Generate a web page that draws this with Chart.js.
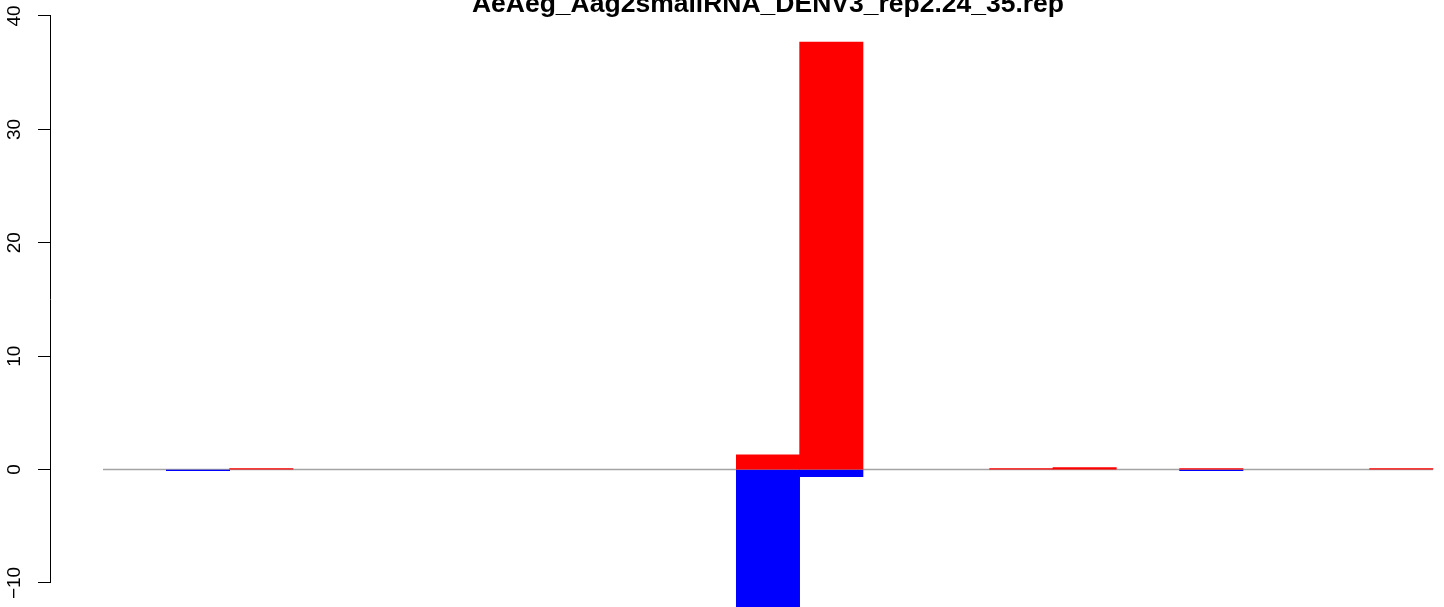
<!DOCTYPE html>
<html>
<head>
<meta charset="utf-8">
<script src="https://cdn.jsdelivr.net/npm/chart.js@4/dist/chart.umd.min.js"></script>
<style>
  html, body { margin: 0; padding: 0; background: #fff; overflow: hidden; }
  canvas { display: block; }
</style>
</head>
<body>
<canvas id="chart" width="1444" height="607"></canvas>
<script>
// positions along the x axis (21 slots)
const positions = [0, 1, 2, 3, 4, 5, 6, 7, 8, 9, 10, 11, 12, 13, 14, 15, 16, 17, 18, 19, 20];
const plusValues  = [0, 0, 0.09, 0, 0, 0, 0, 0, 0, 0, 1.29, 37.7, 0, 0, 0.09, 0.18, 0, 0.09, 0, 0, 0.09];
const minusValues = [0, -0.09, 0, 0, 0, 0, 0, 0, 0, 0, -12.5, -0.63, 0, 0, 0, 0, 0, -0.09, 0, 0, 0];
const yTickValues = [-10, 0, 10, 20, 30, 40];
const chartTitle = 'AeAeg_Aag2smallRNA_DENV3_rep2.24_35.rep';

// empty slots are left out so nothing is painted over the zero line
const toPoints = arr => positions.map((p, i) => ({ x: p, y: arr[i] === 0 ? null : arr[i] }));

// rotated tick labels, axis line and the cut-off title (R style)
const rAxisPlugin = {
    id: 'rAxis',
    afterDraw(chart) {
        const ctx = chart.ctx;
        const y = chart.scales.y;
        const x = chart.scales.x;
        ctx.save();
        ctx.strokeStyle = '#000';
        ctx.lineWidth = 1;
        ctx.beginPath();
        ctx.moveTo(y.right - 0.5, y.getPixelForValue(yTickValues[0]));
        ctx.lineTo(y.right - 0.5, y.getPixelForValue(yTickValues[yTickValues.length - 1]));
        ctx.stroke();

        ctx.fillStyle = '#000';
        ctx.font = '19px "Liberation Sans", Arial, sans-serif';
        ctx.textAlign = 'center';
        ctx.textBaseline = 'alphabetic';
        yTickValues.forEach(v => {
            ctx.save();
            ctx.translate(20, y.getPixelForValue(v));
            ctx.rotate(-Math.PI / 2);
            ctx.fillText(v < 0 ? '\u2212' + Math.abs(v) : String(v), 0, 0);
            ctx.restore();
        });

        const cx = (x.getPixelForValue(-0.5) + x.getPixelForValue(20.5)) / 2;
        ctx.font = 'bold 26.5px "Liberation Sans", Arial, sans-serif';
        ctx.fillText(chartTitle, cx, 12);
        ctx.restore();
    }
};

new Chart(document.getElementById('chart'), {
    type: 'bar',
    data: {
        datasets: [
            {
                label: 'plus',
                data: toPoints(plusValues),
                backgroundColor: '#ff0000',
                borderWidth: 0,
                categoryPercentage: 1,
                barPercentage: 1,
                order: 1
            },
            {
                label: 'minus',
                data: toPoints(minusValues),
                backgroundColor: '#0000ff',
                borderWidth: 0,
                categoryPercentage: 1,
                barPercentage: 1,
                order: 1
            },
            {
                // grey zero line, drawn behind the bars
                type: 'line',
                label: 'zero',
                data: [{ x: -0.5, y: 0 }, { x: 20.5, y: 0 }],
                borderColor: '#a3a3a3',
                borderWidth: 1.6,
                pointRadius: 0,
                stack: 'zero',
                order: 5
            }
        ]
    },
    options: {
        responsive: false,
        animation: false,
        devicePixelRatio: 1,
        layout: { padding: 0 },
        plugins: {
            legend: { display: false },
            tooltip: { enabled: false },
            title: { display: false }
        },
        scales: {
            x: {
                type: 'linear',
                display: false,
                stacked: true,
                offset: false,
                min: -1.321,
                max: 20.674,
                grid: { offset: false },
                ticks: { stepSize: 1, includeBounds: false }
            },
            y: {
                stacked: true,
                min: -12.12,
                max: 41.41,
                afterFit(scale) { scale.width = 51; },
                afterBuildTicks(scale) {
                    scale.ticks = yTickValues.map(v => ({ value: v }));
                },
                border: { display: false },
                grid: {
                    drawOnChartArea: false,
                    drawTicks: true,
                    tickLength: 13,
                    color: '#000',
                    lineWidth: 1
                },
                ticks: { display: false, includeBounds: false }
            }
        }
    },
    plugins: [rAxisPlugin]
});
</script>
</body>
</html>
